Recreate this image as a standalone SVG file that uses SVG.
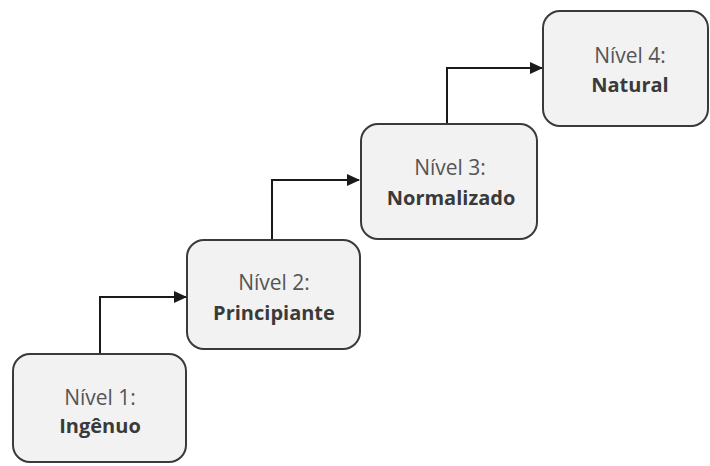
<svg xmlns="http://www.w3.org/2000/svg" width="710" height="466" viewBox="0 0 710 466">
  <style>
    .box { fill: #f2f2f2; stroke: #3a3a3a; stroke-width: 2; }
    .t1 { font-family: "Open Sans", "Liberation Sans", sans-serif; font-size: 21px; fill: #555555; text-anchor: middle; }
    .t2 { font-family: "Open Sans", "Liberation Sans", sans-serif; font-size: 20px; font-weight: bold; fill: #3a3a3a; text-anchor: middle; }
    .link { fill: none; stroke: #1a1a1a; stroke-width: 2; }
  </style>
  <defs>
    <marker id="arrow" markerWidth="13" markerHeight="12" refX="12" refY="6" orient="auto" markerUnits="userSpaceOnUse">
      <path d="M0,0 L13,6 L0,12 z" fill="#1a1a1a"/>
    </marker>
  </defs>
  <rect width="710" height="466" fill="#ffffff"/>
  <g id="connectors">
    <path class="link" d="M100,354 V297 H186" marker-end="url(#arrow)"/>
    <path class="link" d="M272,240 V180 H359" marker-end="url(#arrow)"/>
    <path class="link" d="M447,124 V68 H542" marker-end="url(#arrow)"/>
  </g>
  <g id="n1">
    <rect class="box" x="13" y="354" width="173" height="108" rx="17"/>
    <text class="t1" x="100" y="405">Nível 1:</text>
    <text class="t2" x="100" y="433">Ingênuo</text>
  </g>
  <g id="n2">
    <rect class="box" x="187" y="240" width="173" height="109" rx="17"/>
    <text class="t1" x="274" y="290">Nível 2:</text>
    <text class="t2" x="274" y="320">Principiante</text>
  </g>
  <g id="n3">
    <rect class="box" x="361" y="124" width="176" height="115" rx="17"/>
    <text class="t1" x="450" y="175">Nível 3:</text>
    <text class="t2" x="451" y="205">Normalizado</text>
  </g>
  <g id="n4">
    <rect class="box" x="543" y="11" width="165" height="115" rx="17"/>
    <text class="t1" x="630" y="63">Nível 4:</text>
    <text class="t2" x="630" y="92">Natural</text>
  </g>
</svg>
